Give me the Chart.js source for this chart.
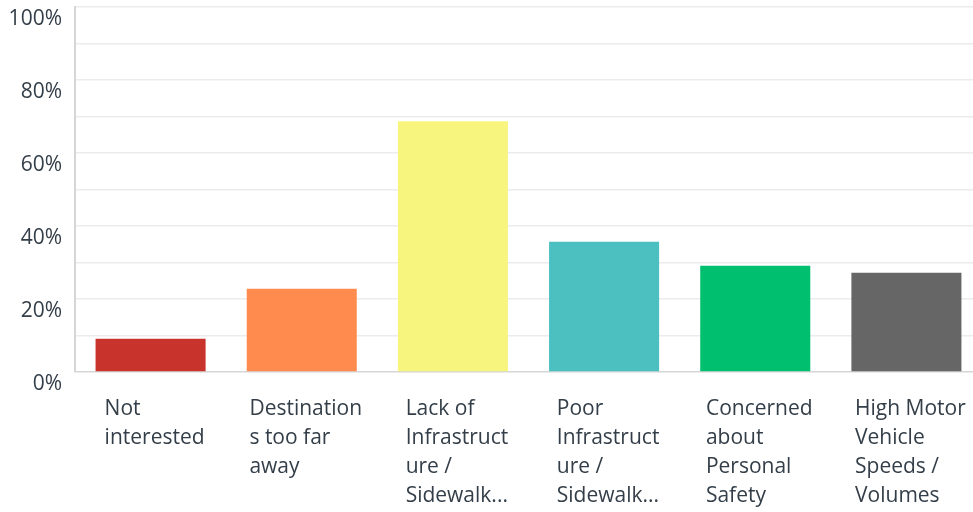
<!DOCTYPE html>
<html>
<head>
<meta charset="utf-8">
<script src="https://cdn.jsdelivr.net/npm/chart.js@4.4.0/dist/chart.umd.min.js"></script>
<style>
  html, body { margin: 0; padding: 0; background: #fff; overflow: hidden; }
  #wrap { width: 973px; height: 512px; overflow: hidden; }
</style>
</head>
<body>
<div id="wrap"><canvas id="chart" width="982" height="512"></canvas></div>
<script>
const categories = [
  ['Not', 'interested'],
  ['Destination', 's too far', 'away'],
  ['Lack of', 'Infrastruct', 'ure /', 'Sidewalk...'],
  ['Poor', 'Infrastruct', 'ure /', 'Sidewalk...'],
  ['Concerned', 'about', 'Personal', 'Safety'],
  ['High Motor', 'Vehicle', 'Speeds /', 'Volumes']
];
const values = [9.1, 22.8, 68.7, 35.7, 29.1, 27.2];
const barColors = ['#c8332c', '#ff8b4f', '#f8f57e', '#4cc0c1', '#00bf6f', '#666666'];
const yTickLabels = [0, 20, 40, 60, 80, 100];

const textColor = '#333e48';
const fontFamily = '"Open Sans", sans-serif';

// category labels: left-aligned lines, block centred under each bar
const labelPlugin = {
  id: 'leftLabels',
  afterDraw(chart) {
    const ctx = chart.ctx;
    const x = chart.scales.x;
    ctx.save();
    ctx.font = '21px ' + fontFamily;
    ctx.fillStyle = textColor;
    ctx.textAlign = 'left';
    ctx.textBaseline = 'alphabetic';
    categories.forEach((lines, i) => {
      const cx = x.getPixelForValue(i);
      const w = Math.max(...lines.map(l => ctx.measureText(l).width));
      const left = cx - w / 2 + 4;
      lines.forEach((l, j) => ctx.fillText(l, left, 415 + j * 29));
    });
    ctx.restore();
  }
};

const chart = new Chart(document.getElementById('chart').getContext('2d'), {
  type: 'bar',
  data: {
    labels: categories,
    datasets: [{
      data: values,
      backgroundColor: barColors,
      borderWidth: 0,
      categoryPercentage: 1,
      barPercentage: 0.728
    }]
  },
  options: {
    responsive: false,
    animation: false,
    layout: { autoPadding: false, padding: { top: 7, bottom: 140, right: 0, left: 0 } },
    plugins: { legend: { display: false }, title: { display: false }, tooltip: { enabled: false } },
    scales: {
      x: {
        ticks: { display: false },
        grid: { display: false, drawTicks: false },
        border: { display: false }
      },
      y: {
        min: 0,
        max: 100,
        afterFit(scale) {
          scale.width = 75;
          scale.paddingTop = 0;
          scale.paddingBottom = 0;
        },
        ticks: {
          stepSize: 10,
          padding: 13,
          labelOffset: 12,
          color: textColor,
          font: { family: fontFamily, size: 21 },
          callback: v => yTickLabels.includes(v) ? v + '%' : ''
        },
        grid: {
          drawTicks: false,
          lineWidth: 1.5,
          color: c => c.tick && c.tick.value === 0 ? '#d6d6d6' : '#ececec'
        },
        border: { display: true, color: '#d6d6d6', width: 2 }
      }
    }
  },
  plugins: [labelPlugin]
});
</script>
</body>
</html>
